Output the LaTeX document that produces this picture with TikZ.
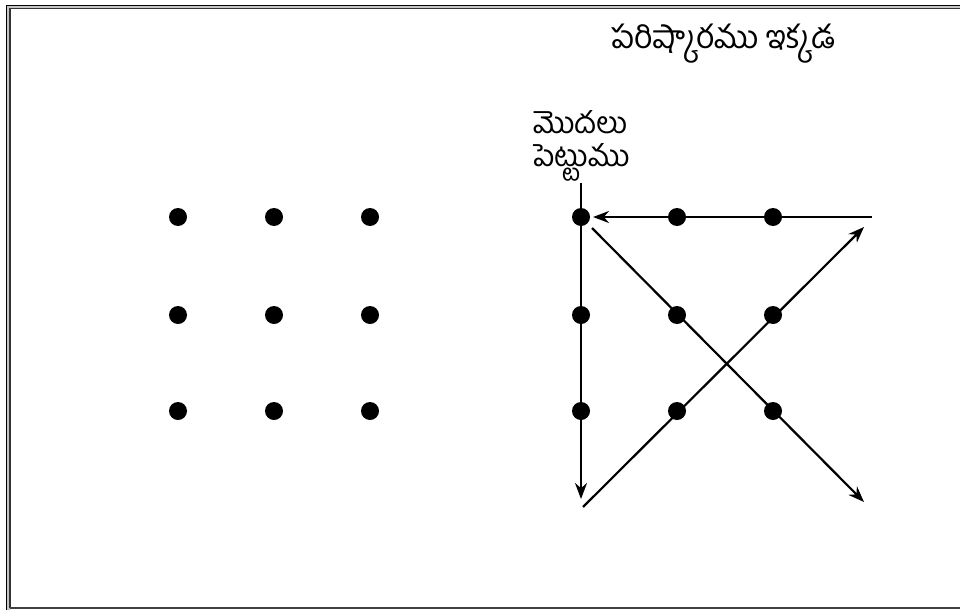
\documentclass[tikz,border=0pt]{standalone}
\usepackage{fontspec}
\newfontfamily\telugu[Script=Telugu]{Hind Guntur}
\usetikzlibrary{arrows.meta}
\begin{document}
\begin{tikzpicture}[x=1pt,y=-1pt,
  dot/.style={circle,fill=black,inner sep=0pt,minimum size=18pt},
  conn/.style={line width=2.2pt},
  arr/.style={conn,-{Stealth[length=16pt,width=12pt]}},
  lbl/.style={font=\telugu\fontsize{32}{30}\selectfont,inner sep=0pt},
  slbl/.style={font=\telugu\fontsize{30}{30}\selectfont,inner sep=0pt}]
\useasboundingbox (0,0) rectangle (960,610);
% frame
\fill[gray!45] (6.5,610) -- (6.5,5.5) -- (960,5.5) -- (960,8.5) -- (10,8.5) -- (10,610) -- cycle;
\draw[line width=1.5pt] (6.5,610) -- (6.5,5.5) -- (960,5.5);
\draw[line width=1.5pt,black!80] (10,607.5) -- (10,8.5) -- (960,8.5);
\draw[line width=2pt,black!75] (10,607.5) -- (960,607.5);
% left grid
\foreach \i/\x in {1/178,2/274,3/370}
  \foreach \j/\y in {1/217,2/315,3/411}
    \node[dot] (L\i\j) at (\x,\y) {};
% right grid
\foreach \i/\x in {1/581,2/677,3/773}
  \foreach \j/\y in {1/217,2/315,3/411}
    \node[dot] (R\i\j) at (\x,\y) {};
% labels
\node[lbl,anchor=west] (title) at (611,44) {పరిష్కారము ఇక్కడ};
\node[slbl,anchor=base west] (start1) at (533,133) {మొదలు};
\node[slbl,anchor=base west] (start2) at (533,166) {పెట్టుము};
% path coordinates
\coordinate (p0) at (581,183);
\coordinate (p1) at (581,499);
\coordinate (p2) at (583,507);
\coordinate (p3) at (864,227);
\coordinate (p4) at (872,217);
\coordinate (p5) at (593,217);
\coordinate (p6) at (592,228);
\coordinate (p7) at (864,502);
\draw[arr] (p0) -- (p1);
\draw[arr] (p2) -- (p3);
\draw[arr] (p4) -- (p5);
\draw[arr] (p6) -- (p7);
\end{tikzpicture}
\end{document}
